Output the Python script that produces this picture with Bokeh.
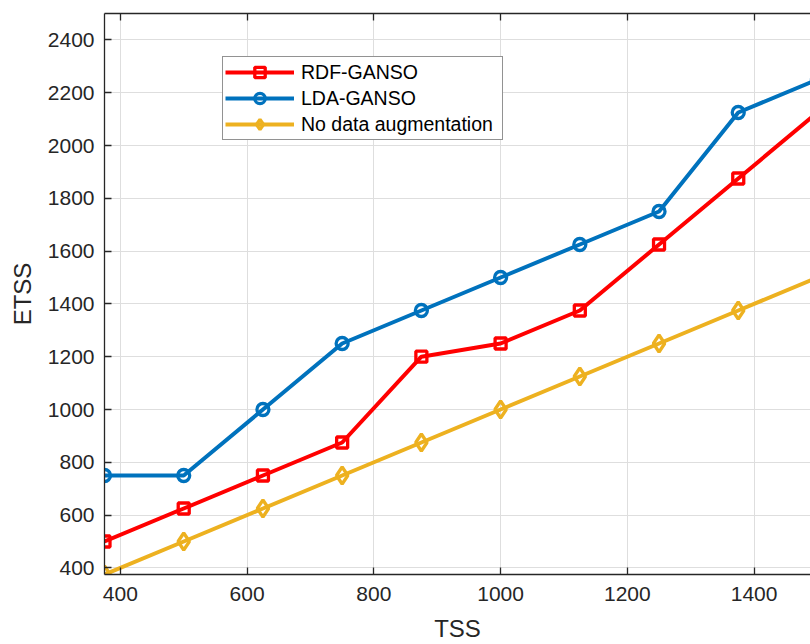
from bokeh.plotting import figure
from bokeh.models import Range1d, LinearAxis, FixedTicker, Legend, LegendItem
from bokeh.embed import file_html
from bokeh.resources import INLINE

# ---- data ----
tss = [375, 500, 625, 750, 875, 1000, 1125, 1250, 1375, 1500]
rdf_ganso = [500, 625, 750, 875, 1200, 1250, 1375, 1625, 1875, 2125]
lda_ganso = [750, 750, 1000, 1250, 1375, 1500, 1625, 1750, 2125, 2250]
no_aug = [375, 500, 625, 750, 875, 1000, 1125, 1250, 1375, 1500]
x_ticks = [400, 600, 800, 1000, 1200, 1400]
y_ticks = [400, 600, 800, 1000, 1200, 1400, 1600, 1800, 2000, 2200, 2400]
series_names = ["RDF-GANSO", "LDA-GANSO", "No data augmentation"]

FONT = "Liberation Sans"
AX = "#262626"

p = figure(width=810, height=644, output_backend="svg", toolbar_location=None,
           x_range=Range1d(375, 1489), y_range=Range1d(375, 2500),
           min_border_left=104, min_border_right=0, min_border_top=13,
           min_border_bottom=69, background_fill_color="white",
           border_fill_color="white")
p.outline_line_color = None

for ax in (p.xaxis[0], p.yaxis[0]):
    ax.axis_line_color = AX
    ax.axis_line_width = 1.3
    ax.major_tick_line_color = AX
    ax.major_tick_line_width = 1.3
    ax.major_tick_in = 7
    ax.major_tick_out = 0
    ax.minor_tick_line_color = None
    ax.major_label_text_font = FONT
    ax.major_label_text_font_size = "21px"
    ax.major_label_text_color = AX
    ax.axis_label_text_font = FONT
    ax.axis_label_text_font_size = "24px"
    ax.axis_label_text_font_style = "normal"
    ax.axis_label_text_color = AX

p.xaxis[0].ticker = FixedTicker(ticks=x_ticks)
p.yaxis[0].ticker = FixedTicker(ticks=y_ticks)
p.xaxis[0].axis_label = "TSS"
p.yaxis[0].axis_label = "ETSS"
p.xaxis[0].major_label_standoff = 12
p.yaxis[0].major_label_standoff = 10
p.xaxis[0].axis_label_standoff = 11
p.yaxis[0].axis_label_standoff = 9

top = LinearAxis(ticker=FixedTicker(ticks=x_ticks),
                 major_label_overrides={t: "" for t in x_ticks},
                 major_label_text_font_size="1px",
                 major_label_standoff=0, major_tick_in=7, major_tick_out=0,
                 axis_line_color=AX, axis_line_width=1.3,
                 major_tick_line_color=AX, major_tick_line_width=1.3,
                 minor_tick_line_color=None)
p.add_layout(top, "above")

p.xgrid.ticker = FixedTicker(ticks=x_ticks)
p.ygrid.ticker = FixedTicker(ticks=y_ticks)
for g in (p.xgrid[0], p.ygrid[0]):
    g.grid_line_color = "#dedede"
    g.grid_line_width = 1

colors = ["#ff0000", "#0072bd", "#edb120"]
markers = ["square", "circle", "diamond"]
sizes = [11, 12, 17]
ys = [rdf_ganso, lda_ganso, no_aug]

items = []
for name, yv, c, m, s in zip(series_names, ys, colors, markers, sizes):
    rl = p.line(tss, yv, line_color=c, line_width=4)
    rm = p.scatter(tss, yv, marker=m, size=s, line_color=c, line_width=3.3,
                   fill_color=None)
    items.append(LegendItem(label=name, renderers=[rl, rm]))

legend = Legend(items=items, location=(118, 434), padding=2, spacing=0,
                glyph_height=26, glyph_width=69, label_height=26,
                label_standoff=7, label_width=199, margin=0,
                label_text_font=FONT, label_text_font_size="19.5px",
                label_text_color="#000000", border_line_color=AX,
                border_line_width=1, background_fill_color="white",
                background_fill_alpha=1)
p.add_layout(legend)

open("out.html", "w").write(file_html(p, INLINE))
